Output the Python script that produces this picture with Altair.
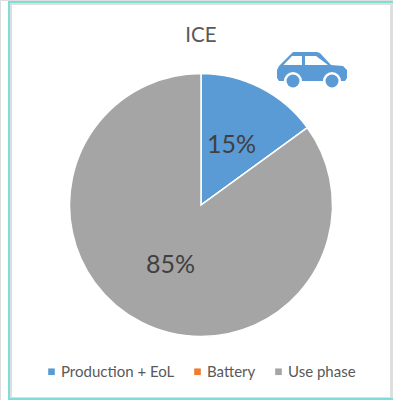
import altair as alt
import pandas as pd

categories = ["Production + EoL", "Battery", "Use phase"]
shares = [15, 0, 85]
colors = ["#5b9bd5", "#ed7d31", "#a5a5a5"]
title_text = "ICE"

pie_data = pd.DataFrame({"part": categories, "share": shares, "idx": [0, 1, 2]})
pie_data["label"] = [f"{s}%" for s in shares]

W, H = 393, 400
CX, CY = 201, 205
FONT = "Lato"


def panel(x, x2, y, y2, fill):
    return alt.Chart(pd.DataFrame({"a": [0]})).mark_rect(fill=fill).encode(
        x=alt.value(x), x2=alt.value(x2), y=alt.value(y), y2=alt.value(y2)
    )


def icon(outline, fill, cx=312.5, cy=70, span=71.0):
    # Builds a symbol path from pixel-sized outline points around the icon centre
    u = span / 2
    d = "M" + "L".join(f"{(px - cx) / u:.3f},{(py - cy) / u:.3f}" for px, py in outline) + "Z"
    return alt.Chart(pd.DataFrame({"a": [0]})).mark_point(
        shape=d, size=span * span, filled=True, fill=fill, opacity=1, strokeWidth=0
    ).encode(x=alt.value(cx), y=alt.value(cy))


def wheel(cx, radius, fill):
    return alt.Chart(pd.DataFrame({"a": [0]})).mark_point(
        shape="circle", size=(2 * radius) ** 2, filled=True, fill=fill, opacity=1, strokeWidth=0
    ).encode(x=alt.value(cx), y=alt.value(81))


car_body = [(279, 81), (277, 78), (277, 70), (279, 66), (290, 55), (293, 52), (317, 52), (320, 53),
            (331, 65), (343, 66), (347, 70), (347, 78), (345, 81)]
window_rear = [(283.5, 65), (292, 56), (302, 56), (302, 65)]
window_front = [(305, 56), (316, 56), (328, 65), (305, 65)]

base = alt.Chart(pie_data)

slices = base.mark_arc(outerRadius=131.5, stroke="white", strokeWidth=1.5).encode(
    x=alt.value(CX),
    y=alt.value(CY),
    theta=alt.Theta("share:Q", stack=True, scale=alt.Scale(domain=[0, 100], range=[0, 6.2832])),
    order=alt.Order("idx:Q"),
    color=alt.Color(
        "part:N",
        sort=categories,
        scale=alt.Scale(domain=categories, range=colors),
        legend=alt.Legend(
            title=None,
            orient="none",
            legendX=44,
            legendY=364,
            direction="horizontal",
            symbolType="square",
            symbolSize=44,
            symbolStrokeWidth=0,
            labelFont=FONT,
            labelFontSize=15,
            labelColor="#595959",
            labelOffset=2,
            columnPadding=15,
        ),
    ),
)

labels = base.transform_filter("datum.share > 0").mark_text(
    radius=67, font=FONT, fontSize=25, color="#404040"
).encode(
    x=alt.value(CX),
    y=alt.value(CY),
    theta=alt.Theta("share:Q", stack=True, scale=alt.Scale(domain=[0, 100], range=[0, 6.2832])),
    order=alt.Order("idx:Q"),
    text="label:N",
)

heading = alt.Chart(pd.DataFrame({"t": [title_text]})).mark_text(
    font=FONT, fontSize=20.5, color="#595959"
).encode(x=alt.value(201), y=alt.value(35.5), text="t:N")

chart = alt.layer(
    panel(8, 393, 1, 400, "#7fdcd6"),
    panel(10, 393, 3, 398, "#dedede"),
    panel(12, 390, 5, 397, "#ffffff"),
    heading,
    slices,
    labels,
    icon(car_body, "#5b9bd5"),
    icon(window_rear, "#ffffff"),
    icon(window_front, "#ffffff"),
    wheel(293, 9, "#ffffff"),
    wheel(332, 9, "#ffffff"),
    wheel(293, 6.5, "#5b9bd5"),
    wheel(332, 6.5, "#5b9bd5"),
).properties(
    width=W, height=H, padding=0, autosize=alt.AutoSizeParams(type="none")
).configure_view(stroke=None).configure(background="#ffffff")

chart.save("out.html", embed_options={"renderer": "svg", "actions": False})
